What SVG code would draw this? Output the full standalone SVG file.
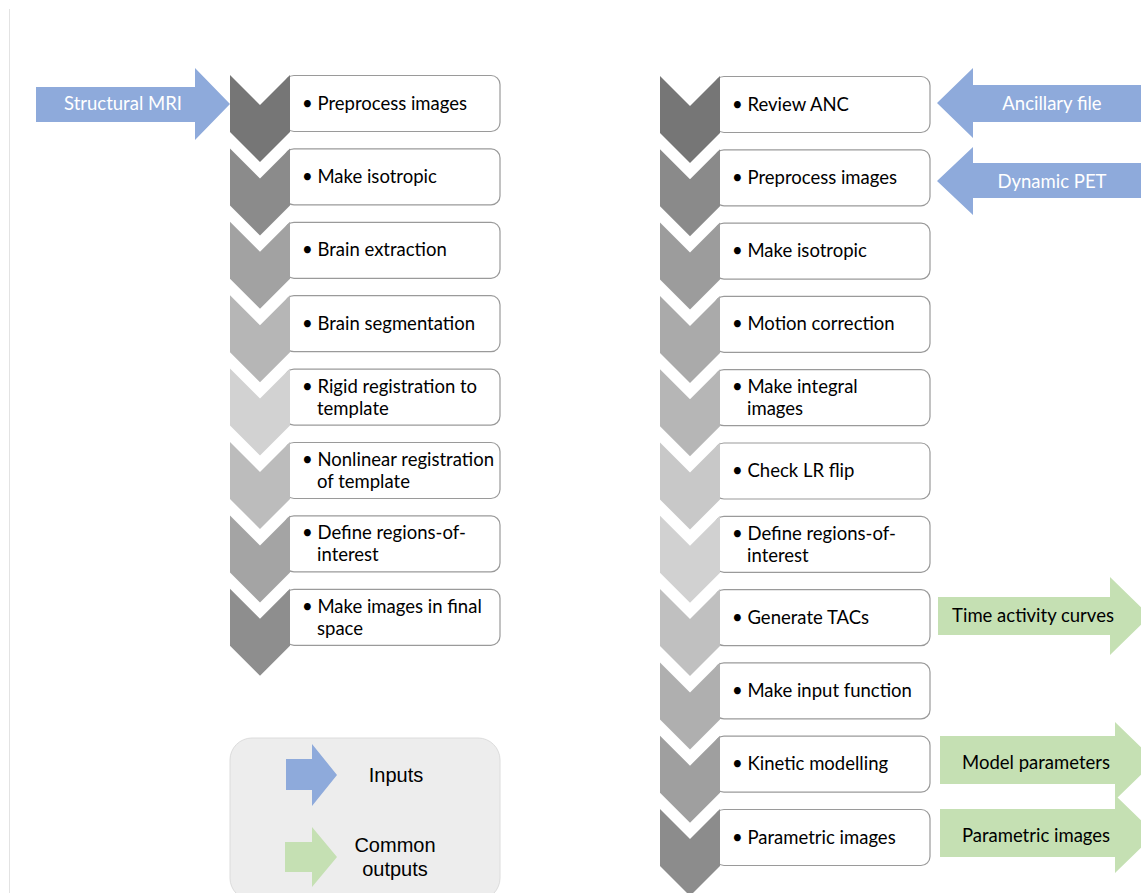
<svg xmlns="http://www.w3.org/2000/svg" width="1141" height="893" viewBox="0 0 1141 893">
<defs>
<style>
.box{fill:#fff;stroke:#9a9a9a;stroke-width:1.2}
.t{font-family:Lato,"Liberation Sans",sans-serif;font-size:18.5px;fill:#000}
.tw{font-family:Lato,"Liberation Sans",sans-serif;font-size:18.5px;fill:#fff;text-anchor:middle}
.tg{font-family:Lato,"Liberation Sans",sans-serif;font-size:18.5px;fill:#000;text-anchor:middle}
.tl{font-family:"Liberation Sans",Arial,sans-serif;font-size:20px;fill:#000;text-anchor:middle}
.in{fill:#8eaadb}
.out{fill:#c5e0b3}
</style>
<path id="chev" d="M0,0 L30,30 L60,0 L60,57 L30,87 L0,57 Z"/>
</defs>
<rect width="1141" height="893" fill="#fff"/>
<line x1="9.5" y1="9" x2="9.5" y2="893" stroke="#e3e3e3" stroke-width="1"/>

<!-- Left chain -->
<g id="L1"><rect class="box" x="285" y="75.5" width="215" height="56" rx="9"/><use href="#chev" x="230" y="75" fill="#767676"/><text class="t" x="302" y="109.5">• Preprocess images</text></g>
<g id="L2"><rect class="box" x="285" y="148.9" width="215" height="56" rx="9"/><use href="#chev" x="230" y="148.4" fill="#8b8b8b"/><text class="t" x="302" y="182.9">• Make isotropic</text></g>
<g id="L3"><rect class="box" x="285" y="222.3" width="215" height="56" rx="9"/><use href="#chev" x="230" y="221.8" fill="#a2a2a2"/><text class="t" x="302" y="256.3">• Brain extraction</text></g>
<g id="L4"><rect class="box" x="285" y="295.7" width="215" height="56" rx="9"/><use href="#chev" x="230" y="295.2" fill="#b6b6b6"/><text class="t" x="302" y="329.7">• Brain segmentation</text></g>
<g id="L5"><rect class="box" x="285" y="369.1" width="215" height="56" rx="9"/><use href="#chev" x="230" y="368.6" fill="#d2d2d2"/><text class="t" x="302" y="392.6">• Rigid registration to</text><text class="t" x="317" y="414.6">template</text></g>
<g id="L6"><rect class="box" x="285" y="442.5" width="215" height="56" rx="9"/><use href="#chev" x="230" y="442" fill="#bcbcbc"/><text class="t" x="302" y="466">• Nonlinear registration</text><text class="t" x="317" y="488">of template</text></g>
<g id="L7"><rect class="box" x="285" y="515.9" width="215" height="56" rx="9"/><use href="#chev" x="230" y="515.4" fill="#a4a4a4"/><text class="t" x="302" y="539.4">• Define regions-of-</text><text class="t" x="317" y="561.4">interest</text></g>
<g id="L8"><rect class="box" x="285" y="589.3" width="215" height="56" rx="9"/><use href="#chev" x="230" y="588.8" fill="#8e8e8e"/><text class="t" x="302" y="612.8">• Make images in final</text><text class="t" x="317" y="634.8">space</text></g>

<!-- Right chain -->
<g id="R1"><rect class="box" x="715" y="76.5" width="215" height="56" rx="9"/><use href="#chev" x="660" y="76" fill="#767676"/><text class="t" x="732" y="110.5">• Review ANC</text></g>
<g id="R2"><rect class="box" x="715" y="149.8" width="215" height="56" rx="9"/><use href="#chev" x="660" y="149.3" fill="#8a8a8a"/><text class="t" x="732" y="183.8">• Preprocess images</text></g>
<g id="R3"><rect class="box" x="715" y="223.1" width="215" height="56" rx="9"/><use href="#chev" x="660" y="222.6" fill="#9c9c9c"/><text class="t" x="732" y="257.1">• Make isotropic</text></g>
<g id="R4"><rect class="box" x="715" y="296.4" width="215" height="56" rx="9"/><use href="#chev" x="660" y="295.9" fill="#aaaaaa"/><text class="t" x="732" y="330.4">• Motion correction</text></g>
<g id="R5"><rect class="box" x="715" y="369.7" width="215" height="56" rx="9"/><use href="#chev" x="660" y="369.2" fill="#b6b6b6"/><text class="t" x="732" y="393.2">• Make integral</text><text class="t" x="747" y="415.2">images</text></g>
<g id="R6"><rect class="box" x="715" y="443" width="215" height="56" rx="9"/><use href="#chev" x="660" y="442.5" fill="#c8c8c8"/><text class="t" x="732" y="477">• Check LR flip</text></g>
<g id="R7"><rect class="box" x="715" y="516.3" width="215" height="56" rx="9"/><use href="#chev" x="660" y="515.8" fill="#d1d1d1"/><text class="t" x="732" y="539.8">• Define regions-of-</text><text class="t" x="747" y="561.8">interest</text></g>
<g id="R8"><rect class="box" x="715" y="589.6" width="215" height="56" rx="9"/><use href="#chev" x="660" y="589.1" fill="#c0c0c0"/><text class="t" x="732" y="623.6">• Generate TACs</text></g>
<g id="R9"><rect class="box" x="715" y="662.9" width="215" height="56" rx="9"/><use href="#chev" x="660" y="662.4" fill="#afafaf"/><text class="t" x="732" y="696.9">• Make input function</text></g>
<g id="R10"><rect class="box" x="715" y="736.2" width="215" height="56" rx="9"/><use href="#chev" x="660" y="735.7" fill="#9f9f9f"/><text class="t" x="732" y="770.2">• Kinetic modelling</text></g>
<g id="R11"><rect class="box" x="715" y="809.5" width="215" height="56" rx="9"/><use href="#chev" x="660" y="809" fill="#8c8c8c"/><text class="t" x="732" y="843.5">• Parametric images</text></g>

<!-- Inputs -->
<g id="in-mri"><path class="in" d="M36,87 L195,87 L195,68 L230,104 L195,140 L195,122 L36,122 Z"/><text class="tw" x="123" y="110">Structural MRI</text></g>
<g id="in-anc"><path class="in" d="M1145,85 L973,85 L973,68 L937,103 L973,138 L973,122 L1145,122 Z"/><text class="tw" x="1052" y="110">Ancillary file</text></g>
<g id="in-pet"><path class="in" d="M1145,163 L973,163 L973,147 L937,181 L973,215 L973,198 L1145,198 Z"/><text class="tw" x="1052" y="188">Dynamic PET</text></g>

<!-- Outputs -->
<g id="out-tac"><path class="out" d="M938,597 L1110,597 L1110,577 L1150,616 L1110,655 L1110,635 L938,635 Z"/><text class="tg" x="1033" y="622">Time activity curves</text></g>
<g id="out-model"><path class="out" d="M940,736 L1115,736 L1115,722 L1155,761 L1115,800 L1115,784 L940,784 Z"/><text class="tg" x="1036" y="769">Model parameters</text></g>
<g id="out-param"><path class="out" d="M940,809 L1115,809 L1115,795 L1155,834 L1115,873 L1115,857 L940,857 Z"/><text class="tg" x="1036" y="842">Parametric images</text></g>

<g id="connectors"></g>

<!-- Legend -->
<g id="legend">
<rect x="230" y="738" width="270" height="162" rx="22" fill="#ededed" stroke="#dcdcdc" stroke-width="1"/>
<path class="in" d="M286,759 L312,759 L312,744 L337,775 L312,806 L312,790 L286,790 Z"/>
<text class="tl" x="396" y="782">Inputs</text>
<path class="out" d="M285,842 L312,842 L312,827 L337,857 L312,887 L312,872 L285,872 Z"/>
<text class="tl" x="395" y="852">Common</text>
<text class="tl" x="395" y="876">outputs</text>
</g>
</svg>
